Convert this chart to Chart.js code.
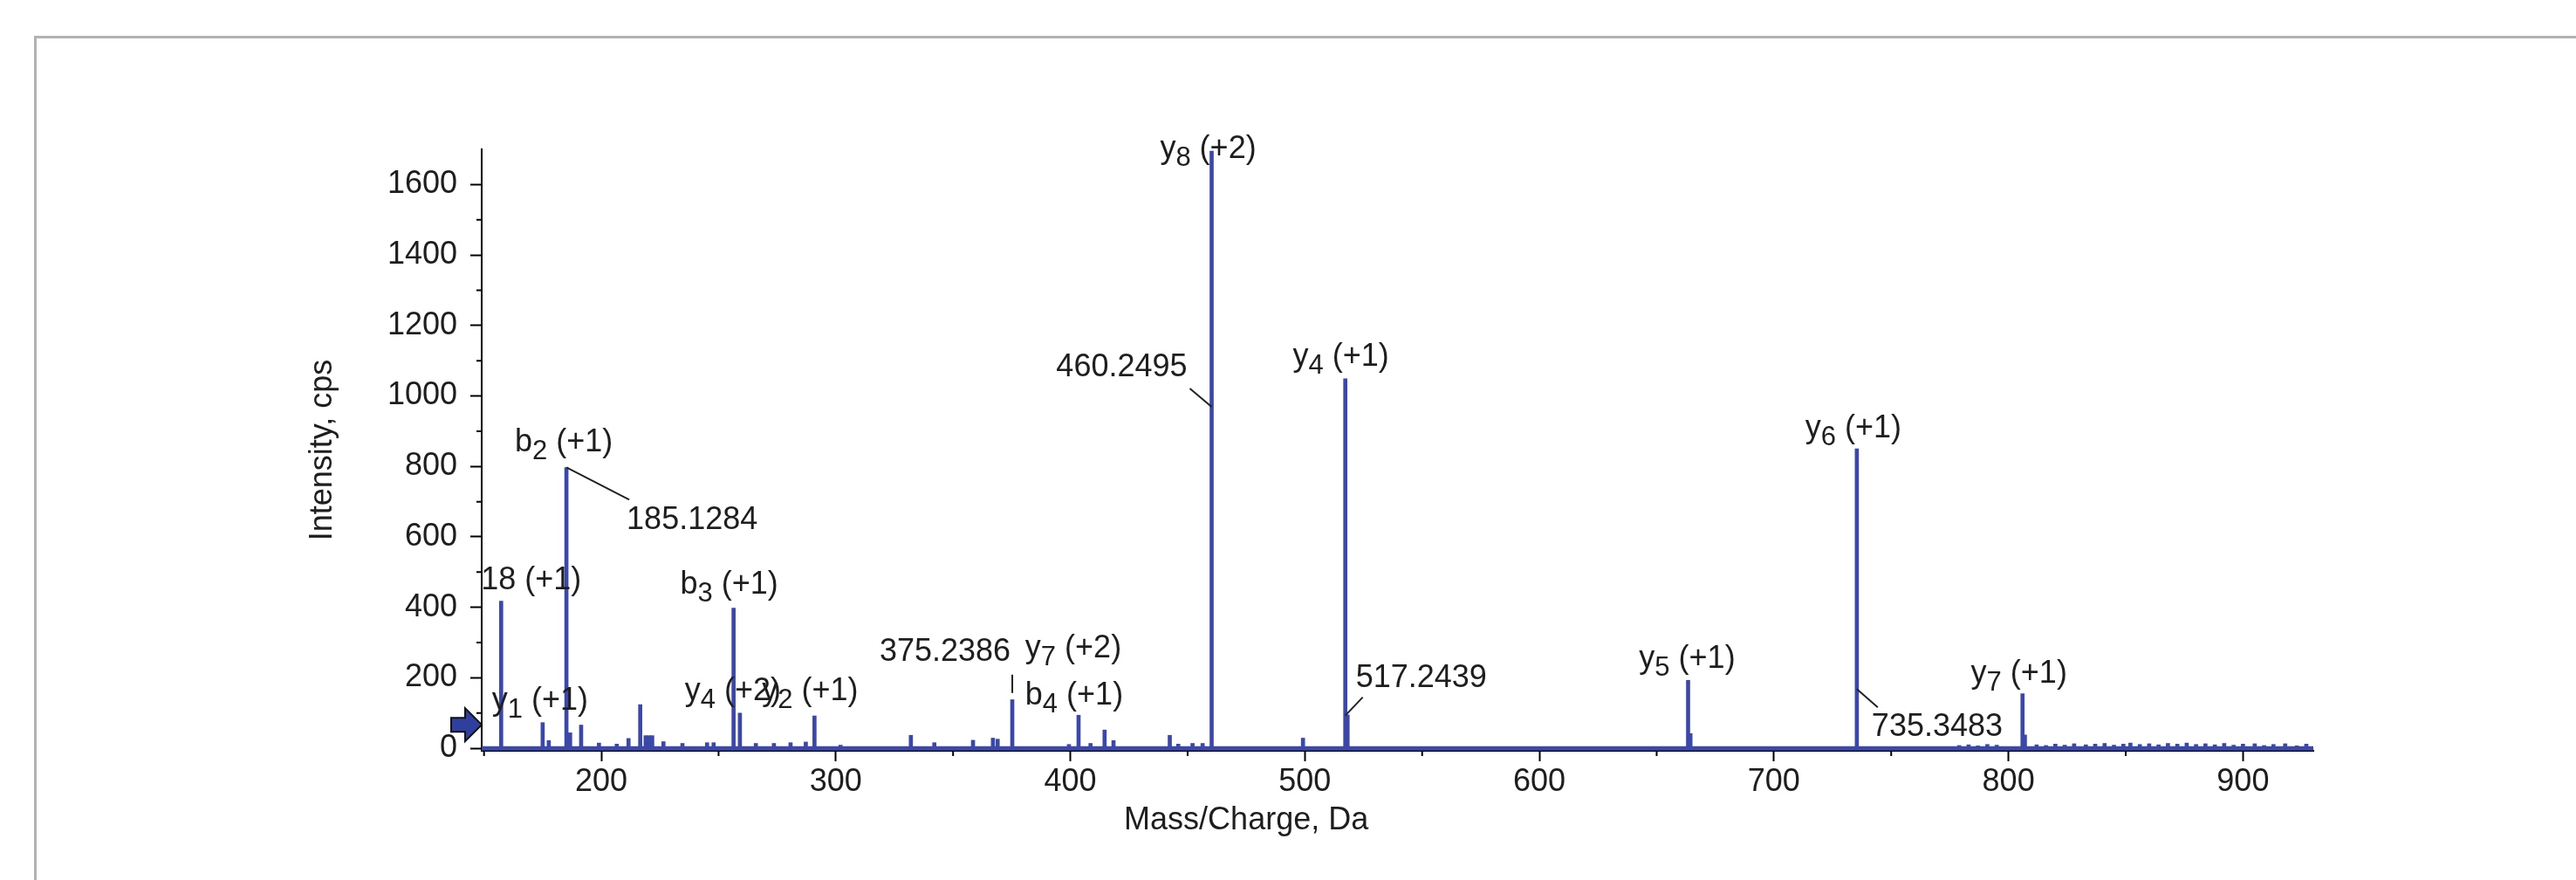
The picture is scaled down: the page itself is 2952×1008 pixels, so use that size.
<!DOCTYPE html>
<html>
<head>
<meta charset="utf-8">
<script src="https://cdn.jsdelivr.net/npm/chart.js@4.4.1/dist/chart.umd.min.js"></script>
<style>
html, body { margin: 0; padding: 0; background: #fff; }
canvas { display: block; }
</style>
</head>
<body>
<canvas id="spectrum" width="2952" height="1008"></canvas>
<script>
// stick spectrum: m/z (Da) and intensity (cps)
var peakMz  = [157.3, 175.0, 177.6, 185.13, 186.7, 191.4, 199.0, 206.6, 211.6, 216.6, 218.9, 220.3, 221.7,
               226.5, 234.6, 245.1, 247.9, 256.4, 259.1, 265.9, 273.6, 280.7, 287.2, 290.9, 302.0, 332.0,
               342.0, 358.5, 367.0, 369.0, 375.24, 399.4, 403.5, 408.6, 414.6, 418.4, 442.4, 446.0, 452.1,
               456.4, 460.25, 499.2, 517.24, 518.2, 663.4, 664.4, 735.35, 806.0, 807.0];
var peakInt = [418, 73, 22, 797, 44, 66, 15, 12, 28, 124, 36, 36, 36,
               19, 14, 16, 16, 398, 100, 14, 14, 16, 18, 92, 9, 37,
               16, 23, 29, 26, 138, 11, 94, 14, 52, 22, 37, 12, 14,
               14, 1695, 29, 1049, 95, 193, 42, 850, 155, 38];

// low level noise at the high mass end
var noiseMz  = [779, 783, 787, 791, 795, 812, 816, 820, 824, 828, 833, 837, 841, 845, 849, 852, 856,
                860, 864, 868, 872, 876, 880, 884, 888, 892, 896, 900, 905, 909, 913, 918, 923, 927];
var noiseInt = [8, 10, 7, 11, 9, 10, 8, 12, 9, 13, 10, 12, 14, 9, 12, 15, 11,
                13, 10, 14, 12, 15, 11, 13, 10, 14, 9, 12, 13, 8, 11, 13, 7, 12];

// continuous baseline under the sticks
var baseMz  = [149, 930];
var baseInt = [0, 0];

// axis ranges and ticks
var xMin = 149, xMax = 930, xStep = 100, xMinorTicks = [150, 250, 350, 450, 550, 650, 750, 850];
var yMin = -7, yMax = 1700, yStep = 200, yMinorTicks = [100, 300, 500, 700, 900, 1100, 1300, 1500];

// fragment ion annotations (ion letter, subscript, rest of text)
var ionMz   = [157.3, 175.0, 185.13, 256.4, 259.1, 290.9, 403.5, 403.5, 460.25, 517.24, 663.4, 735.35, 806.0];
var ionName = ['y', 'y', 'b', 'b', 'y', 'y', 'y', 'b', 'y', 'y', 'y', 'y', 'y'];
var ionSub  = ['1', '1', '2', '3', '4', '2', '7', '4', '8', '4', '5', '6', '7'];
var ionTail = ['-18 (+1)', ' (+1)', ' (+1)', ' (+1)', ' (+2)', ' (+1)', ' (+2)', ' (+1)', ' (+2)', ' (+1)', ' (+1)', ' (+1)', ' (+1)'];

// m/z value annotations with leader lines
var mzLabelMz     = [185.13, 375.24, 460.25, 517.24, 735.35];
var mzLabelText   = ['185.1284', '375.2386', '460.2495', '517.2439', '735.3483'];
var mzLabelAttach = [797, 157, 969, 93, 168];

// placement of the annotations (pixels, relative to peak top / attach point)
var ionLayout = [
  { dx: 92, dy: -13, align: 'right' }, { dx: -3, dy: -15 }, { dx: -3, dy: -18 }, { dx: -5, dy: -17 },
  { dx: -8, dy: -15 }, { dx: -5, dy: -18 }, { dx: -6, dy: -66 }, { dx: -5, dy: -12 },
  { dx: -4, dy: 8 }, { dx: -5, dy: -15 }, { dx: -1, dy: -14 }, { dx: -4, dy: -13 }, { dx: -4, dy: -13 }
];
var mzLayout = [
  { lx: 72, ly: 37, tx: -3, ty: 34, align: 'left' },
  { lx: 0, ly: -21, tx: -2, ty: -16, align: 'right' },
  { lx: -25, ly: -21, tx: -3, ty: -14, align: 'right' },
  { lx: 20, ly: -21, tx: -8, ty: -12, align: 'left' },
  { lx: 24, ly: 21, tx: -7, ty: 33, align: 'left' }
];

var FONT = '"Liberation Sans", Arial, sans-serif';
var BLUE = '#3b48a8';
var TEXT = '#1e1e1e';

function peakHeight(mz) {
  var best = 0, d = 1e9;
  for (var i = 0; i < peakMz.length; i++) {
    if (Math.abs(peakMz[i] - mz) < d) { d = Math.abs(peakMz[i] - mz); best = peakInt[i]; }
  }
  return best;
}

function drawIon(ctx, x, y, name, sub, tail, align) {
  ctx.font = '36px ' + FONT;
  var w1 = ctx.measureText(name).width;
  var w3 = ctx.measureText(tail).width;
  ctx.font = '31px ' + FONT;
  var w2 = ctx.measureText(sub).width;
  var total = w1 + w2 + w3;
  var x0 = align === 'right' ? x - total : x - total / 2;
  ctx.textAlign = 'left';
  ctx.textBaseline = 'alphabetic';
  ctx.font = '36px ' + FONT;
  ctx.fillText(name, x0, y);
  ctx.fillText(tail, x0 + w1 + w2, y);
  ctx.font = '31px ' + FONT;
  ctx.fillText(sub, x0 + w1, y + 9);
}

var decor = {
  id: 'decor',
  afterDraw: function (chart) {
    var ctx = chart.ctx, area = chart.chartArea;
    var xs = chart.scales.x, ys = chart.scales.y;
    ctx.save();

    // window frame
    ctx.strokeStyle = '#b2b2b2';
    ctx.lineWidth = 3;
    ctx.beginPath();
    ctx.moveTo(40.5, 1008);
    ctx.lineTo(40.5, 42.5);
    ctx.lineTo(2952, 42.5);
    ctx.stroke();

    // minor ticks
    ctx.strokeStyle = '#000';
    ctx.lineWidth = 2;
    ctx.beginPath();
    yMinorTicks.forEach(function (v) {
      var py = ys.getPixelForValue(v);
      ctx.moveTo(area.left - 6, py); ctx.lineTo(area.left, py);
    });
    xMinorTicks.forEach(function (v) {
      var px = xs.getPixelForValue(v);
      ctx.moveTo(px, area.bottom); ctx.lineTo(px, area.bottom + 6);
    });
    ctx.stroke();

    // axis titles
    ctx.fillStyle = TEXT;
    ctx.font = '36px ' + FONT;
    ctx.textAlign = 'center';
    ctx.textBaseline = 'middle';
    ctx.fillText('Mass/Charge, Da', xs.getPixelForValue(475), 940);
    ctx.save();
    ctx.translate(area.left - 182, (area.top + area.bottom) / 2);
    ctx.rotate(-Math.PI / 2);
    ctx.fillText('Intensity, cps', 0, 0);
    ctx.restore();

    // arrow marker on the intensity axis
    var ty = ys.getPixelForValue(67), L = area.left;
    ctx.beginPath();
    ctx.moveTo(L, ty);
    ctx.lineTo(L - 19, ty - 19);
    ctx.lineTo(L - 19, ty - 8);
    ctx.lineTo(L - 35, ty - 8);
    ctx.lineTo(L - 35, ty + 8);
    ctx.lineTo(L - 19, ty + 8);
    ctx.lineTo(L - 19, ty + 19);
    ctx.closePath();
    ctx.fillStyle = '#2e3f9e';
    ctx.fill();
    ctx.strokeStyle = '#111';
    ctx.lineWidth = 2;
    ctx.stroke();

    // annotations, clipped at the intensity axis
    ctx.beginPath();
    ctx.rect(area.left, 0, chart.width - area.left, chart.height);
    ctx.clip();
    ctx.fillStyle = TEXT;
    for (var i = 0; i < ionMz.length; i++) {
      var lay = ionLayout[i];
      var px = xs.getPixelForValue(ionMz[i]);
      var py = ys.getPixelForValue(peakHeight(ionMz[i]));
      drawIon(ctx, px + lay.dx, py + lay.dy, ionName[i], ionSub[i], ionTail[i], lay.align);
    }
    ctx.strokeStyle = '#222';
    ctx.lineWidth = 2;
    ctx.font = '36px ' + FONT;
    ctx.textBaseline = 'alphabetic';
    for (var j = 0; j < mzLabelMz.length; j++) {
      var m = mzLayout[j];
      var ax = xs.getPixelForValue(mzLabelMz[j]);
      var ay = ys.getPixelForValue(mzLabelAttach[j]);
      ctx.beginPath();
      ctx.moveTo(ax, ay);
      ctx.lineTo(ax + m.lx, ay + m.ly);
      ctx.stroke();
      ctx.textAlign = m.align;
      ctx.fillText(mzLabelText[j], ax + m.lx + m.tx, ay + m.ly + m.ty);
    }
    ctx.restore();
  }
};

var sticks = peakMz.map(function (m, i) { return { x: m, y: peakInt[i] }; })
  .concat(noiseMz.map(function (m, i) { return { x: m, y: noiseInt[i] }; }));
var baseline = baseMz.map(function (m, i) { return { x: m, y: baseInt[i] }; });

new Chart(document.getElementById('spectrum'), {
  type: 'bar',
  data: {
    datasets: [
      { type: 'line', data: baseline, borderColor: BLUE, borderWidth: 5, pointRadius: 0, order: 2 },
      { type: 'bar', data: sticks, backgroundColor: BLUE, barThickness: 4, order: 1 }
    ]
  },
  options: {
    responsive: false,
    animation: false,
    layout: { padding: { top: 171, right: 301, left: 0, bottom: 0 } },
    plugins: { legend: { display: false }, tooltip: { enabled: false } },
    scales: {
      x: {
        type: 'linear', min: xMin, max: xMax, offset: false,
        grid: { offset: false, drawOnChartArea: false, drawTicks: true, tickLength: 12, tickColor: '#000', tickWidth: 2 },
        border: { display: true, color: '#000', width: 2 },
        ticks: { stepSize: xStep, includeBounds: false, autoSkip: false, maxRotation: 0, padding: 2,
                 color: TEXT, font: { family: FONT, size: 36 },
                 callback: function (v) { return String(v); } },
        afterFit: function (s) { s.height = 148; }
      },
      y: {
        type: 'linear', min: yMin, max: yMax,
        grid: { drawOnChartArea: false, drawTicks: true, tickLength: 13, tickColor: '#000', tickWidth: 2 },
        border: { display: true, color: '#000', width: 2 },
        ticks: { stepSize: yStep, includeBounds: false, autoSkip: false, padding: 15,
                 color: TEXT, font: { family: FONT, size: 36 },
                 callback: function (v) { return String(v); } },
        afterFit: function (s) { s.width = 552; }
      }
    }
  },
  plugins: [decor]
});
</script>
</body>
</html>
